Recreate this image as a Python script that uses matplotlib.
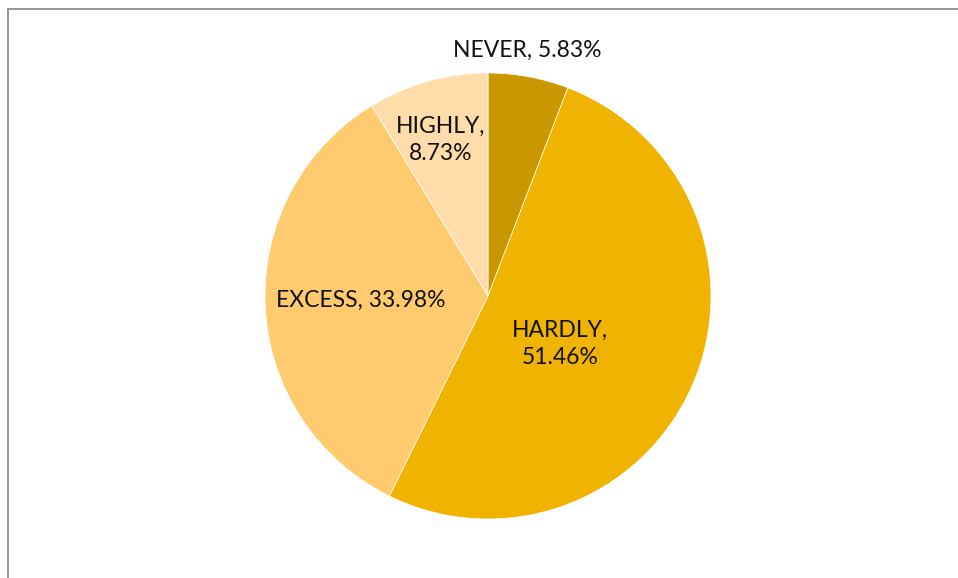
import matplotlib.pyplot as plt
from matplotlib.lines import Line2D

categories = ["NEVER", "HARDLY", "EXCESS", "HIGHLY"]
shares = [5.83, 51.46, 33.98, 8.73]
colors = ["#C99800", "#F0B400", "#FFCB6E", "#FFDDAA"]
# label text anchors (data units, pie radius = 1)
label_xy = [(0.175, 1.103), (0.323, -0.215), (-0.57, -0.018), (-0.211, 0.70)]
label_text = ["NEVER, 5.83%", "HARDLY,\n51.46%", "EXCESS, 33.98%", "HIGHLY,\n8.73%"]

W, H = 958, 578
cx, cy, R = 488, 296, 223

fig = plt.figure(figsize=(W / 100, H / 100), dpi=100)
ax = fig.add_axes([0, 0, 1, 1])
ax.pie(shares, colors=colors, startangle=90, counterclock=False, radius=1,
       wedgeprops=dict(edgecolor="white", linewidth=0.5))
ax.set_xlim(-cx / R, (W - cx) / R)
ax.set_ylim(-(H - cy) / R, cy / R)
ax.set_aspect("auto")
ax.axis("off")

for (x, y), t in zip(label_xy, label_text):
    ax.text(x, y, t, ha="center", va="center", fontsize=16.5, family="Lato",
            color="#111111", linespacing=1.35)

# outer chart frame (left and top edges)
fig.add_artist(Line2D([7.5 / W, 7.5 / W], [0, 1 - 8.5 / H], transform=fig.transFigure,
                      color="#8C8C8C", lw=1.3))
fig.add_artist(Line2D([7.5 / W, 1], [1 - 8.5 / H, 1 - 8.5 / H], transform=fig.transFigure,
                      color="#8C8C8C", lw=1.3))

fig.savefig("out.png", dpi=100, facecolor="white")
